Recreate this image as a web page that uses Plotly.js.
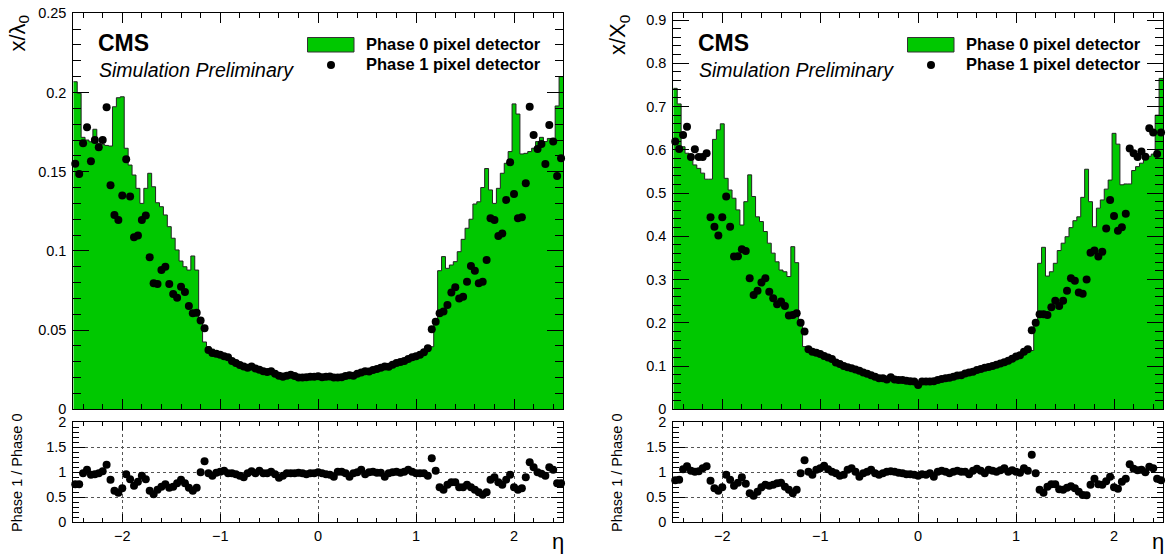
<!DOCTYPE html>
<html><head><meta charset="utf-8">
<script src="https://cdn.plot.ly/plotly-3.0.1.min.js"></script>
<style>html,body{margin:0;padding:0;background:#fff}#chart{width:1168px;height:556px}</style>
</head><body><div id="chart"></div>
<script>
// ---- binning (eta) ----
const etaMin = -2.5, binWidth = 0.04, nBins = 125;

// ---- x/lambda_0 (left) ----
const lamPhase0 = [
0.2068,0.1995,0.1717,0.1700,0.1689,0.1768,0.1680,0.1673,0.1666,0.1662,
0.1910,0.1967,0.1973,0.1648,0.1542,0.1479,0.1395,0.1300,0.1395,0.1490,
0.1405,0.1304,0.1279,0.1227,0.1153,0.1080,0.1006,0.0936,0.0900,0.0879,
0.0968,0.0879,0.0570,0.0425,0.0395,0.0380,0.0362,0.0347,0.0335,0.0323,
0.0312,0.0302,0.0293,0.0284,0.0275,0.0268,0.0262,0.0256,0.0250,0.0245,
0.0240,0.0236,0.0232,0.0228,0.0225,0.0222,0.0219,0.0216,0.0214,0.0213,
0.0212,0.0212,0.0212,0.0212,0.0212,0.0213,0.0214,0.0216,0.0218,0.0221,
0.0224,0.0228,0.0232,0.0236,0.0241,0.0246,0.0252,0.0258,0.0264,0.0271,
0.0278,0.0286,0.0294,0.0303,0.0312,0.0322,0.0333,0.0345,0.0358,0.0372,
0.0400,0.0395,0.0537,0.0875,0.0964,0.0890,0.0911,0.0932,0.0995,0.1073,
0.1143,0.1200,0.1296,0.1310,0.1400,0.1520,0.1385,0.1300,0.1395,0.1490,
0.1553,0.1627,0.1928,0.1864,0.1612,0.1616,0.1627,0.1648,0.1690,0.1717,
0.1690,0.1710,0.1710,0.1915,0.2100];
const lamPhase1 = [
0.1550,0.1486,0.1680,0.1780,0.1566,0.1700,0.1655,0.1700,0.1907,0.1414,
0.1227,0.1195,0.1349,0.1578,0.1343,0.1086,0.1098,0.1195,0.1223,0.0960,
0.0795,0.0791,0.0880,0.0900,0.0791,0.0728,0.0705,0.0774,0.0741,0.0652,
0.0606,0.0610,0.0560,0.0511,0.0375,0.0355,0.0350,0.0345,0.0335,0.0328,
0.0305,0.0292,0.0280,0.0270,0.0262,0.0270,0.0258,0.0250,0.0240,0.0235,
0.0240,0.0225,0.0212,0.0205,0.0212,0.0218,0.0210,0.0200,0.0200,0.0203,
0.0205,0.0205,0.0208,0.0203,0.0205,0.0207,0.0200,0.0200,0.0203,0.0210,
0.0215,0.0212,0.0225,0.0232,0.0240,0.0238,0.0248,0.0255,0.0262,0.0270,
0.0268,0.0282,0.0292,0.0298,0.0305,0.0318,0.0328,0.0335,0.0345,0.0360,
0.0385,0.0505,0.0553,0.0606,0.0617,0.0659,0.0737,0.0770,0.0700,0.0711,
0.0806,0.0905,0.0875,0.0795,0.0806,0.0943,0.1206,0.1195,0.1094,0.1110,
0.1322,0.1560,0.1360,0.1206,0.1212,0.1427,0.1910,0.1732,0.1643,0.1675,
0.1549,0.1795,0.1690,0.1473,0.1585];
const lamRatio = [
0.76,0.76,0.98,1.05,0.95,0.96,0.98,1.02,1.15,0.85,
0.63,0.59,0.68,0.96,0.86,0.73,0.81,0.93,0.86,0.63,
0.56,0.65,0.71,0.76,0.69,0.71,0.78,0.85,0.78,0.69,
0.63,0.69,1.00,1.22,0.98,0.93,0.99,1.01,1.03,0.98,
0.98,0.96,0.93,0.90,0.98,1.02,0.98,1.03,0.98,0.98,
1.01,0.96,0.89,0.93,0.98,0.98,0.98,0.99,0.98,0.96,
0.98,0.98,1.00,0.98,0.96,0.95,0.91,1.01,1.01,0.98,
0.91,0.98,1.00,1.05,0.96,1.00,1.01,0.99,0.99,0.91,
0.98,1.00,1.01,0.99,1.01,1.05,1.01,0.98,0.98,0.98,
0.93,1.28,1.03,0.70,0.65,0.75,0.80,0.80,0.70,0.70,
0.75,0.70,0.65,0.60,0.55,0.60,0.85,0.90,0.80,0.75,
0.85,0.95,0.70,0.65,0.68,0.90,1.20,1.10,1.00,0.97,
0.93,1.10,1.05,0.78,0.78];

// ---- x/X_0 (right) ----
const x0Phase0 = [
0.742,0.706,0.607,0.592,0.584,0.565,0.557,0.546,0.532,0.532,
0.624,0.646,0.660,0.534,0.507,0.488,0.461,0.426,0.480,0.542,
0.492,0.445,0.434,0.411,0.384,0.361,0.341,0.322,0.318,0.307,
0.376,0.339,0.205,0.145,0.138,0.136,0.131,0.126,0.121,0.116,
0.112,0.108,0.104,0.100,0.096,0.093,0.090,0.087,0.084,0.081,
0.078,0.076,0.074,0.072,0.070,0.069,0.068,0.067,0.066,0.066,
0.065,0.065,0.064,0.065,0.065,0.066,0.066,0.067,0.068,0.069,
0.071,0.073,0.075,0.077,0.079,0.082,0.085,0.087,0.090,0.093,
0.096,0.099,0.102,0.105,0.108,0.111,0.115,0.119,0.123,0.128,
0.134,0.136,0.200,0.3375,0.3745,0.308,0.318,0.3375,0.367,0.384,
0.399,0.420,0.436,0.445,0.490,0.555,0.480,0.422,0.465,0.484,
0.509,0.530,0.638,0.613,0.519,0.521,0.521,0.552,0.561,0.569,
0.584,0.585,0.590,0.680,0.765];
const x0Phase1 = [
0.619,0.602,0.634,0.653,0.583,0.601,0.583,0.583,0.592,0.444,
0.422,0.402,0.444,0.492,0.422,0.353,0.354,0.370,0.366,0.303,
0.264,0.274,0.293,0.303,0.272,0.257,0.243,0.249,0.239,0.217,
0.218,0.222,0.200,0.180,0.139,0.133,0.131,0.128,0.123,0.120,
0.116,0.108,0.105,0.100,0.097,0.095,0.092,0.089,0.085,0.082,
0.079,0.0755,0.0717,0.0717,0.069,0.074,0.069,0.068,0.068,0.066,
0.065,0.064,0.056,0.064,0.064,0.064,0.065,0.068,0.070,0.0717,
0.073,0.0755,0.078,0.079,0.0825,0.085,0.087,0.091,0.093,0.096,
0.098,0.100,0.103,0.106,0.109,0.1125,0.117,0.122,0.125,0.133,
0.139,0.183,0.200,0.220,0.220,0.218,0.236,0.251,0.239,0.251,
0.274,0.303,0.297,0.270,0.267,0.300,0.362,0.367,0.353,0.364,
0.418,0.484,0.447,0.413,0.421,0.452,0.603,0.592,0.583,0.596,
0.584,0.650,0.640,0.590,0.640];
const x0Ratio = [
0.84,0.85,1.06,1.12,1.03,1.01,1.02,1.08,1.12,0.83,
0.68,0.63,0.70,0.95,0.85,0.73,0.79,0.90,0.77,0.58,
0.53,0.61,0.70,0.75,0.73,0.75,0.78,0.79,0.71,0.65,
0.58,0.65,0.98,1.24,1.01,0.95,1.05,1.08,1.13,1.06,
1.01,0.98,0.93,0.95,1.05,1.08,1.01,0.91,0.98,1.01,
1.05,0.98,0.95,0.98,1.01,1.02,1.01,0.99,0.98,0.96,
0.96,0.95,0.93,0.96,0.95,0.98,0.91,1.01,1.03,1.01,
0.98,1.01,1.03,1.01,1.01,0.96,1.03,1.07,1.03,0.98,
1.05,1.03,1.01,1.04,1.08,1.01,1.04,1.01,0.99,1.08,
1.03,1.35,0.98,0.65,0.59,0.71,0.76,0.76,0.66,0.65,
0.69,0.72,0.68,0.61,0.545,0.54,0.75,0.87,0.76,0.75,
0.82,0.91,0.70,0.67,0.81,0.87,1.16,1.07,1.04,1.05,
1.00,1.11,1.08,0.87,0.84];

// ---- texts ----
const legendLabels = ['Phase 0 pixel detector', 'Phase 1 pixel detector'];
const xTitle = '\u03b7';
const yTitles = ['x/\u03bb<sub>0</sub>', 'x/X<sub>0</sub>'];
const ratioTitle = 'Phase 1 / Phase 0';

// ---- derived bin geometry ----
const edges = Array.from({length: nBins + 1}, (_, i) => +(etaMin + i * binWidth).toFixed(4));
const centers = edges.slice(0, -1).map(e => +(e + binWidth / 2).toFixed(4));
const stepY = arr => arr.concat([arr[arr.length - 1]]);

const W = 1168, H = 556;
const px = v => v / W;
const py = v => 1 - v / H;
const FONT = '"Liberation Sans", Arial, Helvetica, sans-serif';
const GREEN = '#00c800';
const OFF = 600;

function xAxis(shift, anchor, labels) {
  return {
    domain: [px(73.3 + shift), px(563 + shift)], range: [-2.5, 2.5], anchor: anchor,
    showticklabels: labels, ticks: 'inside', ticklen: labels ? 8 : 10, tickwidth: 1, tickcolor: '#000',
    tick0: 0, dtick: 1, showline: true, linecolor: '#000', linewidth: 1, mirror: 'allticks',
    zeroline: false, showgrid: labels, gridcolor: '#555', griddash: 'dot', gridwidth: 1,
    minor: {tick0: 0, dtick: 0.2, ticks: 'inside', ticklen: labels ? 4 : 5, tickcolor: '#000', showgrid: false},
    tickfont: {family: FONT, size: 14.5, color: '#000'}, fixedrange: true
  };
}
function yMain(anchor, top, dt, mdt) {
  return {
    domain: [py(409.3), py(13.3)], range: [0, top], anchor: anchor,
    ticks: 'inside', ticklen: 16, tickwidth: 1, tickcolor: '#000', tick0: 0, dtick: dt,
    showline: true, linecolor: '#000', linewidth: 1, mirror: 'allticks', zeroline: false, showgrid: false,
    minor: {tick0: 0, dtick: mdt, ticks: 'inside', ticklen: 8, tickcolor: '#000', showgrid: false},
    tickfont: {family: FONT, size: 14.5, color: '#000'}, ticklabelstandoff: 3, fixedrange: true
  };
}
function yRatio(anchor) {
  return {
    domain: [py(522.3), py(422.3)], range: [0, 2], anchor: anchor,
    ticks: 'inside', ticklen: 12, tickwidth: 1, tickcolor: '#000', tick0: 0, dtick: 0.5,
    showline: true, linecolor: '#000', linewidth: 1, mirror: 'allticks', zeroline: false,
    showgrid: true, gridcolor: '#555', griddash: 'dot', gridwidth: 1,
    minor: {tick0: 0, dtick: 0.1, ticks: 'inside', ticklen: 6, tickcolor: '#000', showgrid: false},
    tickfont: {family: FONT, size: 14.5, color: '#000'}, ticklabelstandoff: 3, fixedrange: true
  };
}

function histTrace(vals, xa, ya) {
  return {type: 'scatter', mode: 'lines', x: edges, y: stepY(vals), xaxis: xa, yaxis: ya,
    line: {shape: 'hv', color: '#222', width: 1}, fill: 'tozeroy', fillcolor: GREEN, hoverinfo: 'skip'};
}
function dotTrace(vals, xa, ya) {
  return {type: 'scatter', mode: 'markers', x: centers, y: vals, xaxis: xa, yaxis: ya,
    marker: {size: 8, color: '#000'}, cliponaxis: false, hoverinfo: 'skip'};
}

const data = [
  histTrace(lamPhase0, 'x', 'y'), dotTrace(lamPhase1, 'x', 'y'), dotTrace(lamRatio, 'x2', 'y2'),
  histTrace(x0Phase0, 'x3', 'y3'), dotTrace(x0Phase1, 'x3', 'y3'), dotTrace(x0Ratio, 'x4', 'y4')
];

const annotations = [], shapes = [];
[0, OFF].forEach((s, k) => {
  const A = (t, x, y, o) => annotations.push(Object.assign({text: t, xref: 'paper', yref: 'paper',
    x: px(x + s), y: py(y), showarrow: false, xanchor: 'left', yanchor: 'middle'}, o));
  A('<b>CMS</b>', 96, 43, {font: {family: FONT, size: 23, color: '#000'}});
  A('<i>Simulation Preliminary</i>', 97, 70, {font: {family: FONT, size: 19.5, color: '#000'}});
  A('<b>' + legendLabels[0] + '</b>', 364, 44, {font: {family: FONT, size: 16.5, color: '#000'}});
  A('<b>' + legendLabels[1] + '</b>', 364, 64, {font: {family: FONT, size: 16.5, color: '#000'}});
  A(yTitles[k], 19, 13, {textangle: -90, xanchor: 'center', yanchor: 'top', font: {family: FONT, size: 22, color: '#000'}});
  A(ratioTitle, 17, 473, {textangle: -90, xanchor: 'center', yanchor: 'middle', font: {family: FONT, size: 14.5, color: '#000'}});
  A(xTitle, 558, 541, {xanchor: 'center', font: {family: FONT, size: 22, color: '#000'}});
  shapes.push({type: 'rect', xref: 'paper', yref: 'paper', x0: px(307.5 + s), x1: px(354 + s), y0: py(52), y1: py(37.5),
    fillcolor: GREEN, line: {color: '#333', width: 1}});
  shapes.push({type: 'circle', xref: 'paper', yref: 'paper', x0: px(327 + s), x1: px(335 + s), y0: py(69), y1: py(61),
    fillcolor: '#000', line: {color: '#000', width: 0}});
});

const layout = {
  width: W, height: H, margin: {l: 0, r: 0, t: 0, b: 0}, paper_bgcolor: '#fff', plot_bgcolor: '#fff',
  showlegend: false, font: {family: FONT, color: '#000'},
  xaxis: xAxis(0, 'y', false), yaxis: yMain('x', 0.25, 0.05, 0.01),
  xaxis2: xAxis(0, 'y2', true), yaxis2: yRatio('x2'),
  xaxis3: xAxis(OFF, 'y3', false), yaxis3: yMain('x3', 0.9155, 0.1, 0.02),
  xaxis4: xAxis(OFF, 'y4', true), yaxis4: yRatio('x4'),
  annotations: annotations, shapes: shapes
};

Plotly.newPlot('chart', data, layout, {displayModeBar: false, staticPlot: true});
</script></body></html>
